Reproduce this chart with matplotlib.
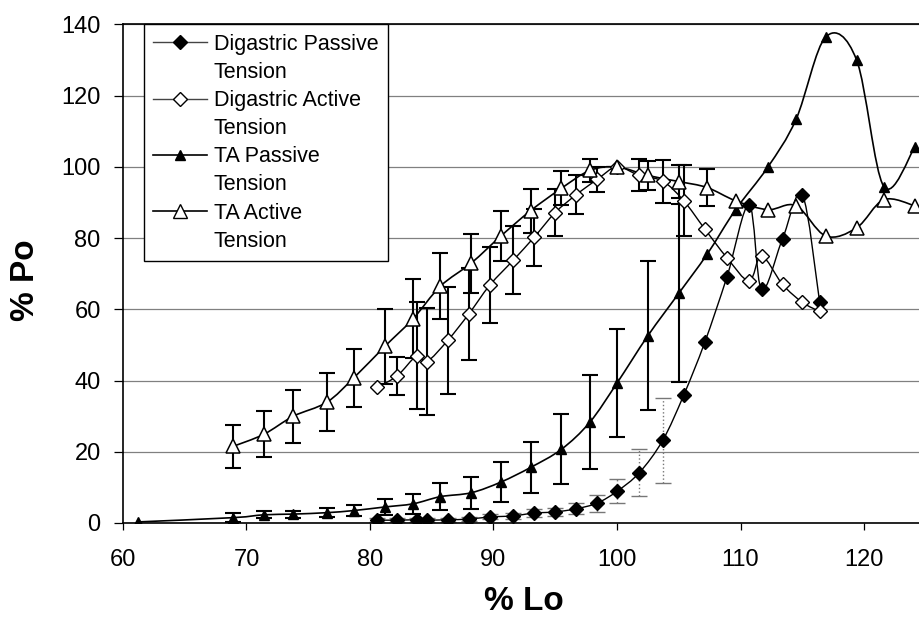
import numpy as np
import matplotlib.pyplot as plt
from matplotlib.path import Path
from matplotlib.patches import PathPatch
from matplotlib.lines import Line2D

plt.rcParams['font.family'] = ['Liberation Sans', 'DejaVu Sans']

# muscle length (% Lo) for the digastric points
dig_lo = [80.6, 82.2, 83.8, 84.6, 86.3, 88.0, 89.7, 91.6, 93.3, 95.0, 96.7, 98.4,
          100.0, 101.8, 103.7, 105.4, 107.1, 108.9, 110.7, 111.7, 113.4, 115.0, 116.4]
dig_passive = [0.8, 0.8, 0.9, 0.8, 0.9, 1.1, 1.7, 2.0, 2.8, 3.1, 4.0, 5.6,
               8.9, 14.1, 23.2, 35.9, 50.7, 69.1, 89.4, 65.6, 79.8, 92.2, 62.2]
dig_passive_sd = [0.5, 0.5, 0.5, 0.5, 0.5, 0.6, 0.7, 0.8, 1.0, 1.2, 1.5, 2.4,
                  3.4, 6.6, 12.0, 0, 0, 0, 0, 0, 0, 0, 0]
dig_active = [38.2, 41.3, 47.0, 45.3, 51.3, 58.7, 66.8, 73.8, 80.3, 87.2, 92.2, 96.5,
              100.0, 97.6, 96.0, 90.5, 82.6, 74.5, 68.0, 75.0, 67.0, 62.0, 59.4]
dig_active_sd = [0, 5.3, 15.0, 15.0, 15.0, 13.0, 10.6, 9.6, 8.0, 6.5, 5.5, 3.5,
                 0, 4.5, 6.0, 10.0, 0, 0, 0, 0, 0, 0, 0]

# muscle length (% Lo) for the TA points
ta_lo = [61.2, 68.9, 71.4, 73.8, 76.5, 78.7, 81.2, 83.5, 85.7, 88.2, 90.6, 93.0,
         95.5, 97.8, 100.0, 102.5, 105.0, 107.3, 109.6, 112.2, 114.5, 116.9,
         119.4, 121.6, 124.1]
ta_passive = [0.3, 1.5, 2.3, 2.5, 2.9, 3.5, 4.5, 5.4, 7.4, 8.5, 11.5, 15.6,
              20.7, 28.3, 39.3, 52.6, 64.5, 75.5, 88.0, 99.9, 113.4, 136.5,
              130.0, 94.5, 105.5]
ta_passive_sd = [0, 1.2, 1.0, 1.0, 1.3, 1.6, 2.2, 2.8, 3.7, 4.5, 5.7, 7.2,
                 9.8, 13.2, 15.2, 21.0, 25.0, 0, 0, 0, 0, 0, 0, 0, 0]
# active TA starts at the second length
ta_active = [21.5, 24.9, 30.0, 33.9, 40.8, 49.6, 57.4, 66.5, 73.0, 80.6, 87.7,
             94.0, 99.0, 100.0, 97.6, 95.9, 94.2, 90.5, 88.0, 89.1, 80.6, 82.9,
             90.8, 89.1]
ta_active_sd = [6.0, 6.5, 7.4, 8.2, 8.2, 10.5, 11.0, 9.3, 8.3, 7.0, 6.2, 4.8,
                3.3, 0, 4.2, 4.5, 5.2, 0, 0, 0, 0, 0, 0, 0]


def smooth_path(x, y):
    # excel-like smoothed line: bezier segments through every point
    pts = np.column_stack([np.asarray(x, float), np.asarray(y, float)])
    n = len(pts)
    verts = [pts[0]]
    codes = [Path.MOVETO]
    for i in range(n - 1):
        p0 = pts[i - 1] if i > 0 else pts[i]
        p1, p2 = pts[i], pts[i + 1]
        p3 = pts[i + 2] if i + 2 < n else pts[i + 1]
        verts += [p1 + (p2 - p0) / 6, p2 - (p3 - p1) / 6, p2]
        codes += [Path.CURVE4] * 3
    return Path(verts, codes)


def err_bars(ax, x, y, sd, **kw):
    x, y, sd = np.asarray(x), np.asarray(y), np.asarray(sd)
    m = sd > 0
    return ax.errorbar(x[m], y[m], yerr=sd[m], fmt='none', **kw)


fig = plt.figure(figsize=(9.19, 6.28), dpi=100)
ax = fig.add_axes([0.1338, 0.1672, 0.8662, 0.7938])

ta_active_lo = ta_lo[1:]

# smoothed lines
for xs, ys, lw in [(dig_lo, dig_passive, 1.0), (dig_lo, dig_active, 1.0),
                   (ta_lo, ta_passive, 1.2), (ta_active_lo, ta_active, 1.2)]:
    ax.add_patch(PathPatch(smooth_path(xs, ys), fill=False, ec='black', lw=lw, zorder=3))

# error bars
eb = err_bars(ax, dig_lo, dig_passive, dig_passive_sd, ecolor='#777777',
              elinewidth=1.0, capsize=5.5, capthick=1.0, zorder=2)
eb[2][0].set_linestyle(':')
err_bars(ax, dig_lo, dig_active, dig_active_sd, ecolor='black',
         elinewidth=1.5, capsize=5.5, capthick=1.5, zorder=2)
err_bars(ax, ta_lo, ta_passive, ta_passive_sd, ecolor='black',
         elinewidth=1.5, capsize=5.5, capthick=1.5, zorder=2)
err_bars(ax, ta_active_lo, ta_active, ta_active_sd, ecolor='black',
         elinewidth=1.5, capsize=5.5, capthick=1.5, zorder=2)

# markers
ax.plot(dig_lo, dig_passive, ls='none', marker='D', ms=7.5, mfc='black', mec='black', zorder=5)
ax.plot(dig_lo, dig_active, ls='none', marker='D', ms=7.5, mfc='white', mec='black', mew=1.0, zorder=5)
ax.plot(ta_lo, ta_passive, ls='none', marker='^', ms=7, mfc='black', mec='black', zorder=5)
ax.plot(ta_active_lo, ta_active, ls='none', marker='^', ms=10.5, mfc='white', mec='black', mew=1.1, zorder=6)

ax.set_xlim(60, 124.45)
ax.set_ylim(0, 140)
ax.set_xticks(np.arange(60, 121, 10))
ax.set_yticks(np.arange(0, 141, 20))
ax.yaxis.grid(True, color='#808080', lw=0.9)
ax.set_axisbelow(True)
ax.spines['right'].set_visible(False)
for s in ['left', 'bottom', 'top']:
    ax.spines[s].set_linewidth(1.2)
ax.tick_params(direction='out', width=0.9, labelsize=17)
ax.tick_params(axis='x', length=5, pad=13.5)
ax.tick_params(axis='y', length=6.5, pad=9.5)

fig.text(26 / 919, 1 - 280 / 628, '% Po', rotation=90, ha='center', va='center',
         fontsize=24, fontweight='bold')
fig.text(524 / 919, 1 - 602 / 628, '% Lo', ha='center', va='center',
         fontsize=24, fontweight='bold')

# legend, one text line per row
blank = Line2D([], [], ls='none', marker='none')
handles = [
    Line2D([], [], color='#444444', lw=1.0, marker='D', ms=7.5, mfc='black', mec='black'),
    blank,
    Line2D([], [], color='#444444', lw=1.0, marker='D', ms=7.5, mfc='white', mec='black'),
    blank,
    Line2D([], [], color='black', lw=1.2, marker='^', ms=7, mfc='black', mec='black'),
    blank,
    Line2D([], [], color='black', lw=1.2, marker='^', ms=10.5, mfc='white', mec='black'),
    blank,
]
labels = ['Digastric Passive', 'Tension', 'Digastric Active', 'Tension',
          'TA Passive', 'Tension', 'TA Active', 'Tension']
leg = ax.legend(handles, labels, loc='upper left', bbox_to_anchor=(21 / 796, 1.0),
                borderaxespad=0, fontsize=15.5, fancybox=False, framealpha=1,
                edgecolor='black', handlelength=2.5, handletextpad=0.3,
                labelspacing=0.33, borderpad=0.44)
leg.get_frame().set_linewidth(1.0)
leg.set_zorder(10)

fig.savefig('out.png', dpi=100)
